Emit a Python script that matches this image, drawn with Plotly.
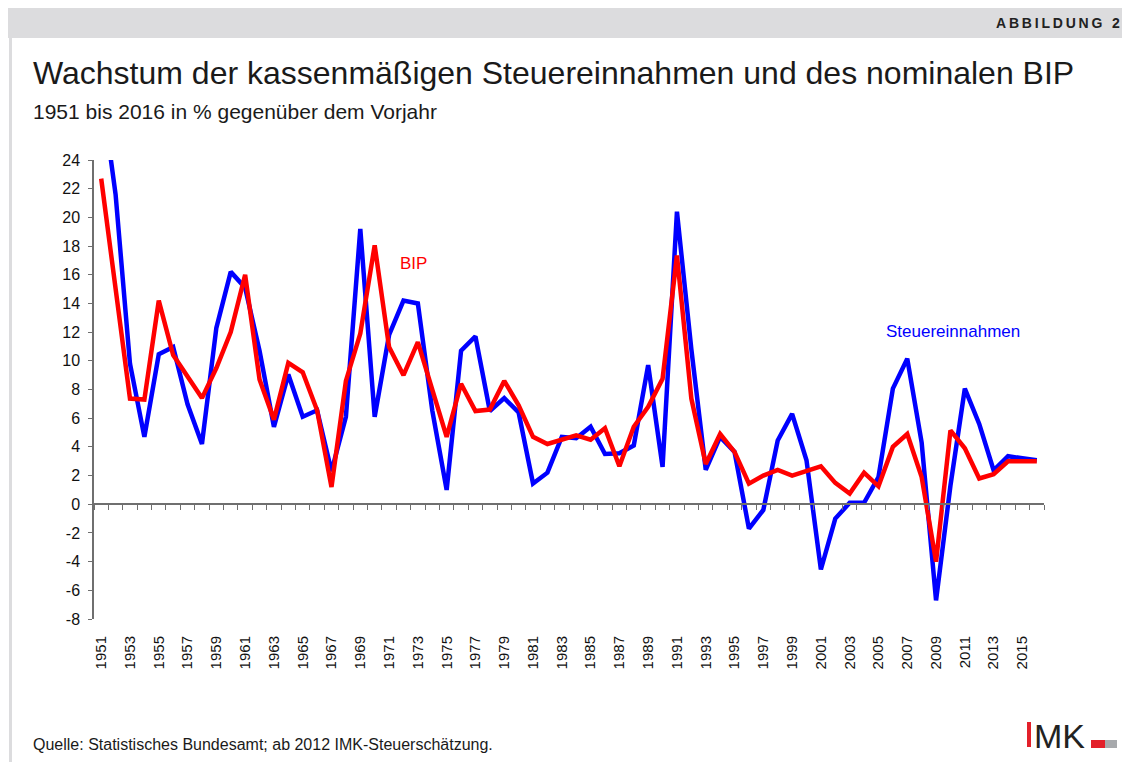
import plotly.graph_objects as go

# ---- data ----
years = list(range(1951, 2017))
label_years = list(range(1951, 2016, 2))
steuer = [29.0, 21.6, 9.8, 4.7, 10.45, 10.96, 6.97, 4.2, 12.3, 16.2,
          15.1, 10.7, 5.4, 9.05, 6.1, 6.55, 2.3, 6.1, 19.2, 6.1,
          11.8, 14.2, 14.0, 6.55, 1.0, 10.7, 11.7, 6.5, 7.4, 6.4,
          1.45, 2.2, 4.7, 4.6, 5.4, 3.5, 3.55, 4.1, 9.7, 2.6,
          20.4, 10.8, 2.4, 4.7, 3.65, -1.7, -0.4, 4.45, 6.3, 3.07,
          -4.55, -1.0, 0.1, 0.1, 1.9, 8.06, 10.15, 4.3, -6.7, 1.3,
          8.06, 5.6, 2.37, 3.35, 3.2, 3.07]
bip = [22.7, 15.0, 7.37, 7.3, 14.2, 10.4, 8.9, 7.4, 9.5, 12.0,
       16.0, 8.7, 5.9, 9.85, 9.2, 6.55, 1.2, 8.6, 11.9, 18.05,
       10.96, 9.0, 11.3, 8.1, 4.7, 8.4, 6.5, 6.6, 8.6, 6.9,
       4.7, 4.2, 4.46, 4.8, 4.5, 5.3, 2.65, 5.4, 6.8, 8.75,
       17.35, 7.37, 2.8, 4.9, 3.65, 1.44, 2.0, 2.4, 2.0, 2.3,
       2.65, 1.49, 0.74, 2.2, 1.25, 4.0, 4.9, 1.9, -4.0, 5.15,
       3.9, 1.8, 2.1, 3.0, 3.0, 3.0]
y_ticks = list(range(-8, 25, 2))
y_ticktext = [str(v) for v in y_ticks]

# ---- geometry (page has an 8px body margin) ----
OFF = 8
W, H = 1122, 754
L, T = 86, 152
R = W - (1044 - OFF)
B = H - (619 - OFF)
PW, PH = W - L - R, H - T - B
FONT = "Liberation Sans, Arial, sans-serif"


def px(x):
    return (x - OFF - L) / PW


def py(y):
    return (H - B - (y - OFF)) / PH


fig = go.Figure()
fig.add_trace(go.Scatter(x=years, y=steuer, mode="lines", name="Steuereinnahmen",
                         line=dict(color="#0000ff", width=4.5), xaxis="x", yaxis="y",
                         hoverinfo="x+y"))
fig.add_trace(go.Scatter(x=years, y=bip, mode="lines", name="BIP",
                         line=dict(color="#ff0000", width=4.5), xaxis="x2", yaxis="y",
                         hoverinfo="x+y"))

xr = [years[0] - 0.5, years[-1] + 0.5]
bounds = [v - 0.5 for v in years] + [years[-1] + 0.5]

fig.update_layout(
    width=W, height=H,
    margin=dict(l=L, r=R, t=T, b=B, pad=0),
    paper_bgcolor="white", plot_bgcolor="white",
    showlegend=False,
    font=dict(family=FONT, color="#111111"),
    xaxis=dict(range=xr, tickvals=label_years, ticktext=[str(v) for v in label_years],
               tickangle=-90, showline=False, showgrid=False, zeroline=False,
               ticks="outside", ticklen=10, tickcolor="rgba(0,0,0,0)",
               tickfont=dict(size=15, family=FONT, color="#111111"), fixedrange=True),
    xaxis2=dict(range=xr, overlaying="x", anchor="free", position=0.25, side="bottom",
                showgrid=False, zeroline=False, showline=True, linecolor="#6f6f6f",
                linewidth=1.5, ticks="outside", tickvals=bounds, ticklen=5,
                tickcolor="#6f6f6f", tickwidth=1, showticklabels=False),
    yaxis=dict(range=[-8, 24], domain=[0, 1], tickvals=y_ticks, ticktext=y_ticktext,
               showline=True, linecolor="#6f6f6f", linewidth=1.5, ticks="outside",
               ticklen=4, tickcolor="#6f6f6f", showgrid=False, zeroline=False,
               ticklabelstandoff=5,
               tickfont=dict(size=16, family=FONT, color="#111111")),
)

shapes = [
    dict(type="rect", xref="paper", yref="paper", x0=px(8), x1=px(1130), y0=py(38), y1=py(8),
         fillcolor="#dcdcde", line=dict(width=0), layer="below"),
    dict(type="rect", xref="paper", yref="paper", x0=px(9), x1=px(12), y0=py(762), y1=py(38),
         fillcolor="#dcdcde", line=dict(width=0), layer="below"),
    # IMK logo
    dict(type="rect", xref="paper", yref="paper", x0=px(1027), x1=px(1031), y0=py(747), y1=py(722),
         fillcolor="#e3202a", line=dict(width=0)),
    dict(type="rect", xref="paper", yref="paper", x0=px(1091), x1=px(1105), y0=py(748), y1=py(740),
         fillcolor="#e3202a", line=dict(width=0)),
    dict(type="rect", xref="paper", yref="paper", x0=px(1105), x1=px(1117), y0=py(748), y1=py(740),
         fillcolor="#a7a9ac", line=dict(width=0)),
]
fig.update_layout(shapes=shapes)

ann = [
    dict(text="Wachstum der kassenmäßigen Steuereinnahmen und des nominalen BIP",
         x=px(31), y=py(73), xanchor="left", yanchor="middle",
         font=dict(size=32, family=FONT, color="#1a1a1a")),
    dict(text="1951 bis 2016 in % gegenüber dem Vorjahr",
         x=px(31), y=py(111), xanchor="left", yanchor="middle",
         font=dict(size=21, family=FONT, color="#1a1a1a")),
    dict(text="<b><span style='letter-spacing:2.8px'>ABBILDUNG 2</span></b>",
         x=px(1124), y=py(23), xanchor="right", yanchor="middle",
         font=dict(size=14, family=FONT, color="#222222")),
    dict(text="Quelle: Statistisches Bundesamt; ab 2012 IMK-Steuerschätzung.",
         x=px(31), y=py(744), xanchor="left", yanchor="middle",
         font=dict(size=16, family=FONT, color="#1a1a1a")),
    dict(text="MK", x=px(1032), y=py(736), xanchor="left", yanchor="middle",
         font=dict(size=34, family=FONT, color="#222222")),
    dict(text="BIP", x=1972.7, y=16.8, xref="x", yref="y", xanchor="center", yanchor="middle",
         font=dict(size=17, family=FONT, color="#ff0000")),
    dict(text="Steuereinnahmen", x=2010.2, y=12.05, xref="x", yref="y",
         xanchor="center", yanchor="middle",
         font=dict(size=17, family=FONT, color="#0000ff")),
]
for a in ann:
    a.setdefault("xref", "paper")
    a.setdefault("yref", "paper")
    a["showarrow"] = False
fig.update_layout(annotations=ann)

fig.write_html("out.html")
